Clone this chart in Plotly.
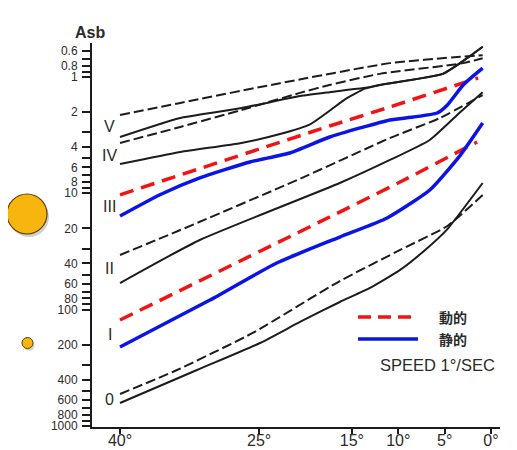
import plotly.graph_objects as go
import math

# ---- data: eccentricity (deg) vs threshold (Asb) ----
V_KIN_DEG = [40, 33.5, 22.75, 10.9, 3.3, 0.9]
V_KIN_ASB = [2.12, 1.67, 1.13, 0.76, 0.67, 0.65]

V_STA_DEG = [40, 33.5, 26.9, 20.6, 17.4, 13.6, 12.0, 5.2, 2.8, 0.9]
V_STA_ASB = [3.28, 2.25, 1.85, 1.46, 1.35, 1.24, 1.17, 0.94, 0.71, 0.55]

IV_KIN_DEG = [40, 33.5, 26.9, 20.6, 17.4, 12.0, 3.0, 0.9]
IV_KIN_ASB = [3.69, 2.69, 1.92, 1.37, 1.17, 0.94, 0.76, 0.69]

IV_STA_DEG = [40, 33.5, 26.9, 22.75, 19.5, 17.4, 15.7, 13.6, 12.0, 5.2, 2.8, 0.9]
IV_STA_ASB = [5.6, 4.41, 3.69, 3.09, 2.55, 1.95, 1.55, 1.26, 1.17, 0.94, 0.71, 0.55]

III_KIN_DEG = [40, 17.4, 10.9, 1.4]
III_KIN_ASB = [10.3, 2.64, 1.81, 1.02]

III_STA_DEG = [40, 35.7, 31.4, 26.0, 21.7, 17.4, 10.9, 8.4, 5.8, 4.7, 3.0, 0.9]
III_STA_ASB = [15.7, 10.3, 7.38, 5.38, 4.5, 3.28, 2.34, 2.21, 2.04, 1.74, 1.17, 0.84]

II_KIN_DEG = [40, 33.5, 20.9, 10.9, 5.5, 0.9]
II_KIN_ASB = [33.9, 20.7, 7.69, 3.35, 2.25, 1.43]

II_STA_DEG = [40, 31.4, 16.3, 10.9, 6.6, 3.3, 0.9]
II_STA_ASB = [59.1, 25.2, 8.16, 5.17, 3.48, 2.0, 1.35]

I_KIN_DEG = [40, 17.4, 9.8, 1.5]
I_KIN_ASB = [122.9, 16.0, 8.0, 3.62]

I_STA_DEG = [40, 30.3, 23.1, 16.3, 11.2, 6.6, 3.3, 0.9]
I_STA_ASB = [209.7, 82.7, 39.75, 23.76, 16.3, 9.37, 4.69, 2.49]

O_KIN_DEG = [40, 33.85, 25.7, 16.3, 9.8, 4.7, 0.9]
O_KIN_ASB = [531.8, 330.6, 158.9, 56.8, 30.7, 19.1, 10.34]

O_STA_DEG = [40, 31.7, 24.9, 20.6, 16.3, 13.05, 9.8, 7.1, 4.7, 0.9]
O_STA_ASB = [635.5, 330.6, 193.8, 127.8, 86.0, 65.2, 45.6, 30.7, 20.3, 8.16]

X_TICKS = [40, 25, 15, 10, 5, 0]
X_LABELS = ["40°", "25°", "15°", "10°", "5°", "0°"]

Y_TICKS = [0.6, 0.7, 0.8, 0.9, 1, 2, 3, 4, 5, 6, 7, 8, 9, 10, 20, 30, 40, 50, 60, 70, 80, 90,
           100, 200, 300, 400, 500, 600, 700, 800, 900, 1000]
Y_LABELED = [0.6, 0.8, 1, 2, 4, 6, 8, 10, 20, 40, 60, 80, 100, 200, 400, 600, 800, 1000]

ISOPTER_NAMES = ["V", "IV", "III", "II", "I", "0"]
ISOPTER_LABEL_ASB = [2.64, 4.69, 13.1, 43.9, 165, 598]

LEGEND_KIN = "動的"
LEGEND_STA = "静的"
SPEED_NOTE = "SPEED 1°/SEC"

# ---- styles ----
BLACK = "#1c1c1c"
RED = "#f01414"
BLUE = "#0a14e6"
TXT = "#2b2b2b"
FONT = "Liberation Sans, Arial, sans-serif"
CJK = "Noto Sans CJK JP"

fig = go.Figure()

def add(xs, ys, color, width, dash):
    fig.add_trace(go.Scatter(
        x=xs, y=ys, mode="lines",
        line=dict(color=color, width=width, dash=dash, shape="spline", smoothing=0.5),
        showlegend=False, hoverinfo="skip"))

kin_dash = "10px,4px"
add(V_KIN_DEG, V_KIN_ASB, BLACK, 2, kin_dash)
add(V_STA_DEG, V_STA_ASB, BLACK, 2, "solid")
add(IV_KIN_DEG, IV_KIN_ASB, BLACK, 2, kin_dash)
add(IV_STA_DEG, IV_STA_ASB, BLACK, 2, "solid")
add(III_KIN_DEG, III_KIN_ASB, RED, 3.5, "14px,8px")
add(III_STA_DEG, III_STA_ASB, BLUE, 3.5, "solid")
add(II_KIN_DEG, II_KIN_ASB, BLACK, 2, kin_dash)
add(II_STA_DEG, II_STA_ASB, BLACK, 2, "solid")
add(I_KIN_DEG, I_KIN_ASB, RED, 3.5, "14px,8px")
add(I_STA_DEG, I_STA_ASB, BLUE, 3.5, "solid")
add(O_KIN_DEG, O_KIN_ASB, BLACK, 2, kin_dash)
add(O_STA_DEG, O_STA_ASB, BLACK, 2, "solid")

def fmt(v):
    return ("%g" % v)

ticktext = [fmt(v) if v in Y_LABELED else "" for v in Y_TICKS]

annotations = []
for name, yv in zip(ISOPTER_NAMES, ISOPTER_LABEL_ASB):
    annotations.append(dict(x=41.08, y=math.log10(yv), xref="x", yref="y", text=name,
                            showarrow=False, font=dict(family=FONT, size=16, color=TXT),
                            xanchor="center", yanchor="middle"))
annotations.append(dict(x=-0.005, y=1.0286, xref="paper", yref="paper", text="<b>Asb</b>",
                        showarrow=False, font=dict(family=FONT, size=16, color=TXT),
                        xanchor="center", yanchor="middle"))
annotations.append(dict(x=0.8456, y=0.2865, xref="paper", yref="paper", text="<b>%s</b>" % LEGEND_KIN,
                        showarrow=False, font=dict(family=CJK, size=14, color=TXT),
                        xanchor="left", yanchor="middle"))
annotations.append(dict(x=0.8456, y=0.229, xref="paper", yref="paper", text="<b>%s</b>" % LEGEND_STA,
                        showarrow=False, font=dict(family=CJK, size=14, color=TXT),
                        xanchor="left", yanchor="middle"))
annotations.append(dict(x=0.701, y=0.1615, xref="paper", yref="paper", text=SPEED_NOTE,
                        showarrow=False, font=dict(family=FONT, size=16.5, color=TXT),
                        xanchor="left", yanchor="middle"))

shapes = [
    # legend samples
    dict(type="line", xref="paper", yref="paper", x0=0.652, x1=0.797, y0=0.2865, y1=0.2865,
         line=dict(color=RED, width=3.5, dash="13px,7px")),
    dict(type="line", xref="paper", yref="paper", x0=0.652, x1=0.799, y0=0.229, y1=0.229,
         line=dict(color=BLUE, width=3.5)),
    # decorative stimulus-size dots (with soft shadow)
    dict(type="circle", xref="paper", yref="paper", x0=-0.2033, x1=-0.1053, y0=0.4946, y1=0.5988,
         fillcolor="rgba(0,0,0,0.18)", line=dict(width=0), layer="below"),
    dict(type="circle", xref="paper", yref="paper", x0=-0.2083, x1=-0.1103, y0=0.5026, y1=0.6068,
         fillcolor="#f7b50e", line=dict(color="#5a4100", width=1.2)),
    dict(type="circle", xref="paper", yref="paper", x0=-0.1676, x1=-0.1406, y0=0.1984, y1=0.2271,
         fillcolor="rgba(0,0,0,0.18)", line=dict(width=0), layer="below"),
    dict(type="circle", xref="paper", yref="paper", x0=-0.1716, x1=-0.1446, y0=0.2044, y1=0.2331,
         fillcolor="#f7b50e", line=dict(color="#5a4100", width=1)),
]

# the page body adds an 8px offset, so the figure is 8px smaller and margins shifted
fig.update_layout(
    width=509, height=442,
    margin=dict(l=84, r=17, t=35, b=23, autoexpand=False),
    paper_bgcolor="white", plot_bgcolor="white",
    showlegend=False,
    annotations=annotations, shapes=shapes,
    xaxis=dict(range=[43.02, -0.97], tickvals=X_TICKS, ticktext=X_LABELS, automargin=False,
               ticklabelstandoff=-7,
               showgrid=False, zeroline=False, showline=True, linecolor=BLACK, linewidth=2,
               ticks="outside", ticklen=5, tickwidth=1.5, tickcolor=BLACK,
               tickfont=dict(family=FONT, size=16, color=TXT)),
    yaxis=dict(type="log", range=[3.0095, -0.2923], tickvals=Y_TICKS, ticktext=ticktext,
               automargin=False, ticklabelstandoff=2,
               showgrid=False, zeroline=False, showline=True, linecolor=BLACK, linewidth=2,
               ticks="outside", ticklen=8, tickwidth=1.5, tickcolor=BLACK,
               tickfont=dict(family=FONT, size=12, color=TXT)),
)

fig.write_html("out.html")
